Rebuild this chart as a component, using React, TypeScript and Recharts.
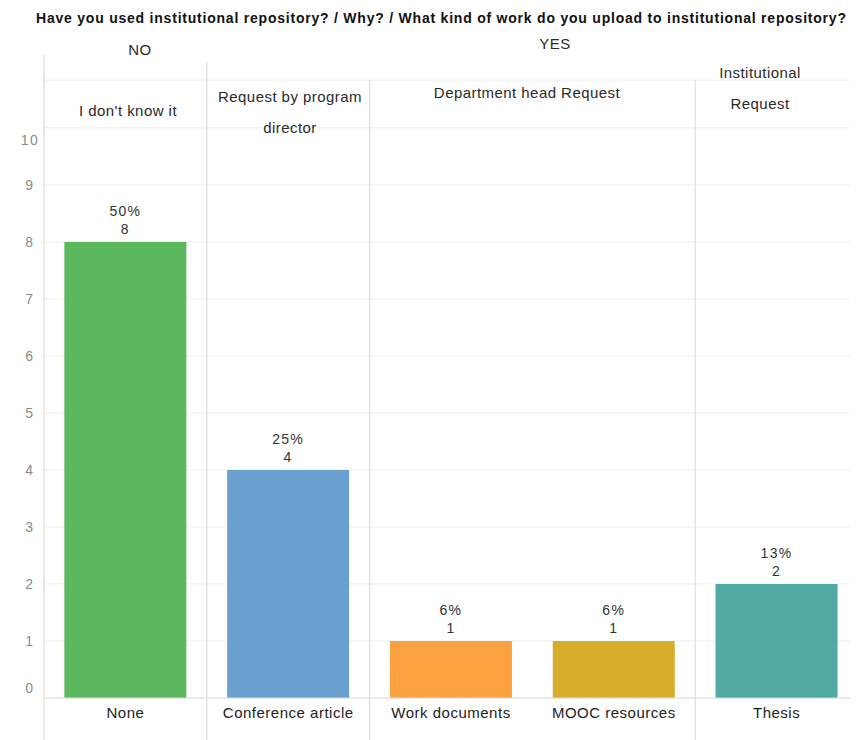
import React from 'react';
import { BarChart, Bar, XAxis, YAxis, CartesianGrid, Cell, LabelList } from 'recharts';

const categories = ['None', 'Conference article', 'Work documents', 'MOOC resources', 'Thesis'];
const counts = [8, 4, 1, 1, 2];
const percents = ['50%', '25%', '6%', '6%', '13%'];
const colors = ['#5cb85c', '#6aa0cf', '#f9a23f', '#d7ae2c', '#50a9a3'];
const yTicks = [0, 1, 2, 3, 4, 5, 6, 7, 8, 9, 10];

const title = 'Have you used institutional repository? / Why? / What kind of work do you upload to institutional repository?';

const W = 850;
const H = 732;
const margin = { top: 72, right: 0, bottom: 12, left: 0 };
const yAxisWidth = 36;
const font = '"Liberation Sans", Arial, sans-serif';

const data = categories.map((name, i) => ({ name, count: counts[i], pct: percents[i] }));

const plotLeft = margin.left + yAxisWidth;
const band = (W - margin.right - plotLeft) / categories.length;
// group separators: before NO, between "program director" and "department head", before "institutional"
const separators = [
  { at: 0, top: 47 },
  { at: 1, top: 54 },
  { at: 2, top: 72 },
  { at: 4, top: 72 },
];

const YTick = (props: any) => {
  const { y, payload } = props;
  let dy = 0;
  if (payload.value === 0) dy = -10;
  if (payload.value === 10) dy = 12;
  return (
    <text x={22} y={y + dy} dy="0.35em" textAnchor="middle" fill="#8a8a8a" fontSize={14} letterSpacing={1.5} fontFamily={font}>
      {payload.value}
    </text>
  );
};

const XTick = (props: any) => {
  const { x, payload } = props;
  return (
    <text x={x} y={705} dy="0.35em" textAnchor="middle" fill="#222" fontSize={15} letterSpacing={0.5} fontFamily={font}>
      {payload.value}
    </text>
  );
};

const TopLabel = (props: any) => {
  const { x, y, width, index } = props;
  const cx = x + width / 2;
  return (
    <g fontFamily={font} fontSize={14} letterSpacing={1.3} fill="#333" textAnchor="middle">
      <text x={cx} y={y - 31} dy="0.35em">{percents[index]}</text>
      <text x={cx} y={y - 13} dy="0.35em">{counts[index]}</text>
    </g>
  );
};

const headerText = {
  fontFamily: font,
  fontSize: 15,
  letterSpacing: 0.45,
  fill: '#2a2a2a',
  textAnchor: 'middle' as const,
};

export default function App() {
  return (
    <div style={{ width: W, height: H, background: '#fff' }}>
      <BarChart width={W} height={H} data={data} margin={margin} barCategoryGap="12.5%">
        <CartesianGrid vertical={false} stroke="#eeeeee" />
        {separators.map((s) => (
          <line
            key={s.at}
            x1={plotLeft + s.at * band}
            x2={plotLeft + s.at * band}
            y1={s.top}
            y2={H}
            stroke="#dddddd"
            strokeWidth={1.2}
          />
        ))}
        <XAxis
          dataKey="name"
          tick={<XTick />}
          tickLine={false}
          axisLine={{ stroke: '#dddddd' }}
          interval={0}
          height={30}
        />
        <YAxis
          domain={[0, 10.84]}
          ticks={yTicks}
          tick={<YTick />}
          tickLine={false}
          axisLine={false}
          width={yAxisWidth}
        />
        <Bar dataKey="count" isAnimationActive={false}>
          {data.map((d, i) => (
            <Cell key={d.name} fill={colors[i]} />
          ))}
          <LabelList dataKey="count" content={<TopLabel />} />
        </Bar>
        <text
          x={28}
          y={10}
          dy="0.35em"
          textAnchor="start"
          fontFamily={font}
          fontSize={14}
          letterSpacing={0.78}
          fontWeight="bold"
          fill="#111"
        >
          {title}
        </text>
        <text x={132} y={42} dy="0.35em" {...headerText}>NO</text>
        <text x={547} y={36} dy="0.35em" {...headerText}>YES</text>
        <text x={120} y={103} dy="0.35em" {...headerText}>I don't know it</text>
        <text x={282} y={89} dy="0.35em" {...headerText}>Request by program</text>
        <text x={282} y={120} dy="0.35em" {...headerText}>director</text>
        <text x={519} y={85} dy="0.35em" {...headerText}>Department head Request</text>
        <text x={752} y={65} dy="0.35em" {...headerText}>Institutional</text>
        <text x={752} y={96} dy="0.35em" {...headerText}>Request</text>
      </BarChart>
    </div>
  );
}
